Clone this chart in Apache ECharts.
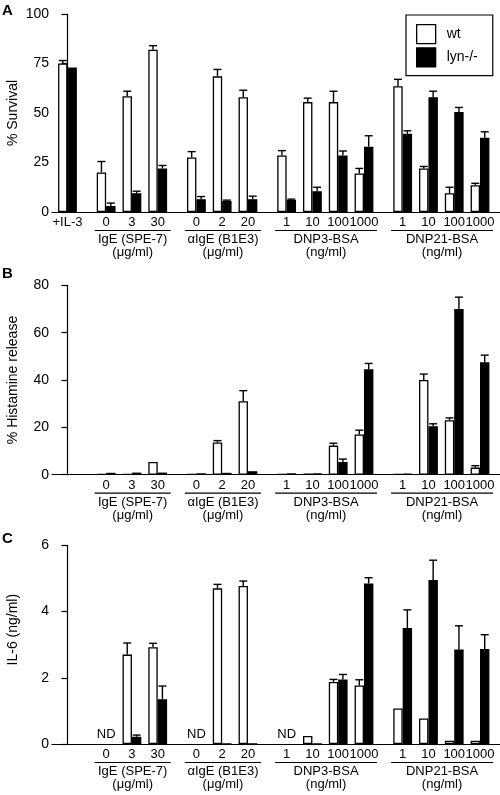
<!DOCTYPE html>
<html><head><meta charset="utf-8">
<script src="https://cdn.jsdelivr.net/npm/echarts@6/dist/echarts.min.js"></script>
<style>html,body{margin:0;padding:0;background:#fff}#c{width:500px;height:795px}</style>
</head><body><div id="c"></div>
<script>
// ---------- data ----------
const groupNames = ['', 'IgE (SPE-7)', 'αIgE (B1E3)', 'DNP3-BSA', 'DNP21-BSA'];
const groupUnits = ['', '(μg/ml)', '(μg/ml)', '(ng/ml)', '(ng/ml)'];
const doseLabels = [['+IL-3'], ['0', '3', '30'], ['0', '2', '20'], ['1', '10', '100', '1000'], ['1', '10', '100', '1000']];

// Panel A: % Survival
const survivalWt     = [75, 20, 58.5, 82, 27.5, 68.5, 58, 28.5, 55.5, 55.5, 19.5, 63.5, 22, 9.5, 13.5];
const survivalWtErr  = [1.5, 5.5, 2.5, 2, 3, 3.5, 3.5, 2.5, 2, 5.5, 2.5, 3.5, 1, 3, 1];
const survivalLyn    = [73, 3, 9.5, 22, 6.5, 5.5, 6.5, 6, 10.5, 28.5, 33, 39.5, 58, 50.5, 37.5];
const survivalLynErr = [0, 1.5, 1, 1.5, 1.3, 0.5, 1.5, 0.5, 2, 2.3, 5.5, 1.5, 3, 2.3, 3];

// Panel B: % Histamine release
const histWt     = [null, 0.3, 0.3, 5.4, 0.2, 13.6, 31, 0.2, 0.4, 12.3, 17, 0.2, 40, 23, 3];
const histWtErr  = [0, 0, 0, 0, 0, 0.8, 4.5, 0, 0, 1, 1.8, 0, 2.5, 1, 0.8];
const histLyn    = [null, 0.8, 0.9, 0.9, 0.6, 0.8, 1.5, 0.6, 0.6, 5.4, 44.5, 0.4, 20.5, 70, 47.5];
const histLynErr = [0, 0, 0, 0, 0, 0, 0, 0, 0, 1.2, 2.5, 0, 1, 5, 3];

// Panel C: IL-6 (ng/ml)
const il6Wt     = [null, 'ND', 2.7, 2.92, 'ND', 4.7, 4.77, 'ND', 0.24, 1.87, 1.77, 1.07, 0.77, 0.1, 0.1];
const il6WtErr  = [0, 0, 0.35, 0.12, 0, 0.12, 0.15, 0, 0, 0.08, 0.17, 0, 0, 0, 0];
const il6Lyn    = [null, 'ND', 0.22, 1.35, 'ND', 0, 0, 'ND', 0, 1.95, 4.85, 3.5, 4.95, 2.85, 2.87];
const il6LynErr = [0, 0, 0.05, 0.4, 0, 0, 0, 0, 0, 0.15, 0.17, 0.55, 0.6, 0.72, 0.43];

const yTitles = ['% Survival', '% Histamine release', 'IL-6 (ng/ml)'];
const yMax = [100, 80, 6];
const yStep = [25, 20, 2];
const panelLetters = ['A', 'B', 'C'];

// ---------- layout helpers ----------
const FONT = "'Liberation Sans', Arial, sans-serif";
const positions = [];   // x position (in axis units) of every pair
const posLabel = {};
const groupSpan = [];   // [startPos, endPos] of each group
(function () {
  let p = 0;
  doseLabels.forEach(function (doses, gi) {
    if (gi > 0) p += 1;
    const start = p;
    doses.forEach(function (d) { positions.push(p); posLabel[p] = d; p += 2; });
    groupSpan.push([start, p - 2]);
  });
})();

const grids = [
  { left: 52, width: 448, top: 14, height: 198 },
  { left: 52, width: 448, top: 285.3, height: 189.4 },
  { left: 52, width: 448, top: 545.3, height: 198.7 }
];
const titleShift = [0, 0, 30];
const BAR_W = 9.4;

const panels = [
  { wt: survivalWt, wtErr: survivalWtErr, lyn: survivalLyn, lynErr: survivalLynErr },
  { wt: histWt, wtErr: histWtErr, lyn: histLyn, lynErr: histLynErr },
  { wt: il6Wt, wtErr: il6WtErr, lyn: il6Lyn, lynErr: il6LynErr }
];

function num(v) { return (typeof v === 'number') ? v : '-'; }

const xAxes = [], yAxes = [], series = [];
panels.forEach(function (pd, k) {
  const shown = positions.filter(function (p, i) { return pd.wt[i] !== null; });
  xAxes.push({
    gridIndex: k, type: 'value', min: -1.2, max: 33.55,
    axisLine: { show: true, onZero: false, lineStyle: { color: '#000', width: 1.2 } },
    axisTick: { show: false }, splitLine: { show: false },
    axisLabel: {
      customValues: shown, interval: 0, margin: 4, color: '#000',
      fontFamily: FONT, fontSize: 13, hideOverlap: false,
      formatter: function (v) { return posLabel[v] || ''; }
    }
  });
  yAxes.push({
    gridIndex: k, type: 'value', min: 0, max: yMax[k], interval: yStep[k],
    name: yTitles[k], nameLocation: 'middle', nameGap: 32, nameRotate: 90, nameMoveOverlap: false,
    nameTextStyle: { color: '#000', fontFamily: FONT, fontSize: 14, padding: [0, 0, 0, titleShift[k]] },
    axisLine: { show: true, lineStyle: { color: '#000', width: 1.2 } },
    axisTick: { show: true, length: 6, lineStyle: { color: '#000', width: 1.2 } },
    splitLine: { show: false },
    axisLabel: { color: '#000', fontFamily: FONT, fontSize: 14, margin: 3 }
  });

  const wtData = positions.map(function (p, i) { return [p, num(pd.wt[i])]; });
  const lynData = positions.map(function (p, i) { return [p, num(pd.lyn[i])]; });
  series.push({
    name: 'wt', type: 'bar', xAxisIndex: k, yAxisIndex: k, data: wtData,
    barWidth: BAR_W, barGap: '0%',
    itemStyle: { color: '#fff', borderColor: '#000', borderWidth: 1.3 }
  });
  series.push({
    name: 'lyn-/-', type: 'bar', xAxisIndex: k, yAxisIndex: k, data: lynData,
    barWidth: BAR_W, barGap: '0%',
    itemStyle: { color: '#000', borderColor: '#000', borderWidth: 1.3 }
  });

  // error bars (upper only)
  const errData = [];
  positions.forEach(function (p, i) {
    if (typeof pd.wt[i] === 'number' && pd.wtErr[i] > 0) errData.push([p, pd.wt[i], pd.wtErr[i], -1]);
    if (typeof pd.lyn[i] === 'number' && pd.lynErr[i] > 0) errData.push([p, pd.lyn[i], pd.lynErr[i], 1]);
  });
  series.push({
    type: 'custom', xAxisIndex: k, yAxisIndex: k, data: errData, silent: true, z: 3,
    encode: { x: 0, y: 1 },
    renderItem: function (params, api) {
      const x = api.value(0), v = api.value(1), e = api.value(2), side = api.value(3);
      const b = api.coord([x, v]);
      const t = api.coord([x, v + e]);
      const cx = b[0] + side * BAR_W / 2;
      return {
        type: 'group', children: [
          { type: 'line', shape: { x1: cx, y1: b[1], x2: cx, y2: t[1] }, style: { stroke: '#000', lineWidth: 1.4 } },
          { type: 'line', shape: { x1: cx - 4, y1: t[1], x2: cx + 4, y2: t[1] }, style: { stroke: '#000', lineWidth: 1.4 } }
        ]
      };
    }
  });

  // ND markers
  const ndData = [];
  positions.forEach(function (p, i) { if (pd.wt[i] === 'ND') ndData.push([p, 0]); });
  if (ndData.length) {
    series.push({
      type: 'custom', xAxisIndex: k, yAxisIndex: k, data: ndData, silent: true,
      encode: { x: 0, y: 1 },
      renderItem: function (params, api) {
        const c = api.coord([api.value(0), 0]);
        return { type: 'text', style: { text: 'ND', x: c[0], y: c[1] - 3, align: 'center', verticalAlign: 'bottom', font: '13px ' + FONT, fill: '#000' } };
      }
    });
  }

  // group underline + names
  const gData = [];
  groupSpan.forEach(function (s, gi) { if (groupNames[gi]) gData.push([s[0], s[1], gi, 0]); });
  series.push({
    type: 'custom', xAxisIndex: k, yAxisIndex: k, data: gData, silent: true, clip: false,
    encode: { x: [0, 1], y: 3 },
    renderItem: function (params, api) {
      const s = api.coord([api.value(0), 0]);
      const e = api.coord([api.value(1), 0]);
      const gi = api.value(2);
      const x1 = s[0] - 11.5, x2 = e[0] + 13, cx = (x1 + x2) / 2, y0 = s[1];
      return {
        type: 'group', children: [
          { type: 'line', shape: { x1: x1, y1: y0 + 18.5, x2: x2, y2: y0 + 18.5 }, style: { stroke: '#000', lineWidth: 1.2 } },
          { type: 'text', style: { text: groupNames[gi], x: cx, y: y0 + 27.5, align: 'center', verticalAlign: 'middle', font: '13px ' + FONT, fill: '#000' } },
          { type: 'text', style: { text: groupUnits[gi], x: cx, y: y0 + 40.5, align: 'center', verticalAlign: 'middle', font: '13px ' + FONT, fill: '#000' } }
        ]
      };
    }
  });
});

const chart = echarts.init(document.getElementById('c'), null, { renderer: 'canvas' });
chart.setOption({
  animation: false,
  backgroundColor: '#fff',
  grid: grids.map(function (g) { return Object.assign({ containLabel: false, outerBoundsMode: 'none' }, g); }),
  xAxis: xAxes,
  yAxis: yAxes,
  legend: {
    left: 406, top: 15, orient: 'vertical', selectedMode: false,
    padding: [9, 15, 8, 10], itemWidth: 19, itemHeight: 19, itemGap: 3,
    borderColor: '#000', borderWidth: 1.2, icon: 'rect',
    textStyle: { color: '#000', fontFamily: FONT, fontSize: 14, padding: [0, 0, 0, 6] },
    data: [
      { name: 'wt', itemStyle: { color: '#fff', borderColor: '#000', borderWidth: 1.3 } },
      { name: 'lyn-/-', itemStyle: { color: '#000', borderColor: '#000', borderWidth: 1.3 } }
    ]
  },
  graphic: panelLetters.map(function (L, k) {
    return { type: 'text', left: 2, top: [3, 266, 531][k], style: { text: L, font: 'bold 15px ' + FONT, fill: '#000' } };
  }),
  series: series
});
</script>
</body></html>
